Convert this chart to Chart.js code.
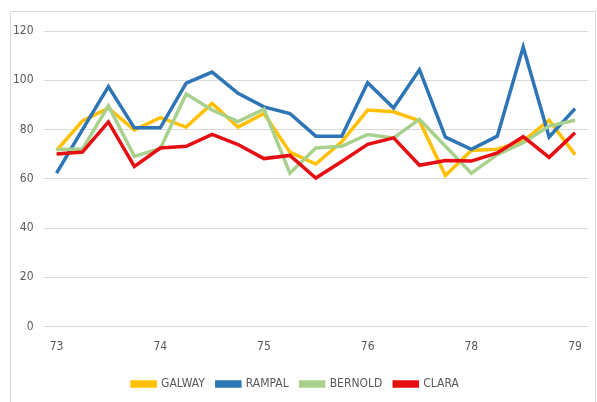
<!DOCTYPE html>
<html>
<head>
<meta charset="utf-8">
<script src="https://cdn.jsdelivr.net/npm/chart.js@4"></script>
<style>
  html, body { margin: 0; padding: 0; background: #fff; }
  #wrap { width: 597px; height: 402px; }
</style>
</head>
<body>
<div id="wrap"><canvas id="lineChart" width="597" height="402"></canvas></div>
<script>
// x categories, only every 4th one carries a label
var categories = ['73', '', '', '', '74', '', '', '', '75', '', '', '', '76', '', '', '', '78', '', '', '', '79'];
var yTicks = [0, 20, 40, 60, 80, 100, 120];

var galway  = [71.5, 83.5, 88.7, 79.8, 84.8, 81, 90.6, 81, 86.5, 70.8, 66, 75, 87.9, 87.2, 83.5, 61.3, 71.5, 72, 75.3, 83.8, 69.8];
var rampal  = [62.3, 80, 97.4, 80.7, 80.7, 98.8, 103.3, 94.7, 89.2, 86.5, 77.3, 77.3, 99, 88.7, 104.3, 76.9, 72, 77.3, 113.5, 77, 88.5];
var bernold = [71.9, 72.1, 89.6, 69.1, 72.3, 94.4, 87.9, 83.2, 88.3, 62.3, 72.5, 73.2, 78, 76.6, 84.2, 73.2, 62.3, 69.8, 74.6, 81.4, 83.8];
var clara   = [70.1, 70.9, 83.1, 65, 72.5, 73.2, 78, 73.9, 68.2, 69.5, 60.3, 67, 74, 76.6, 65.5, 67.4, 67.2, 70.5, 77.1, 68.7, 78.7];

var font = "'DejaVu Sans Condensed', 'Liberation Sans Narrow', 'Liberation Sans', sans-serif";

// light grey frame around the chart, like the original
var framePlugin = {
    id: 'frame',
    beforeDraw: function (chart) {
        var c = chart.ctx;
        c.save();
        c.fillStyle = '#fff';
        c.fillRect(0, 0, chart.width, chart.height);
        c.strokeStyle = '#d9d9d9';
        c.lineWidth = 1;
        c.strokeRect(10.5, 11.5, 585, 400);
        c.restore();
    }
};

function series(label, data, color, order) {
    return {
        label: label,
        data: data,
        borderColor: color,
        backgroundColor: color,
        borderWidth: 3.5,
        pointRadius: 0,
        tension: 0,
        order: order
    };
}

var ctx = document.getElementById('lineChart').getContext('2d');
new Chart(ctx, {
    type: 'line',
    data: {
        labels: categories,
        datasets: [
            series('GALWAY', galway, '#ffc000', 4),
            series('RAMPAL', rampal, '#2e75b6', 3),
            series('BERNOLD', bernold, '#a9d18e', 2),
            series('CLARA', clara, '#e60e12', 1)
        ]
    },
    options: {
        responsive: false,
        animation: false,
        layout: { padding: { left: 3, top: 31, right: 9, bottom: 2 } },
        plugins: {
            tooltip: { enabled: false },
            legend: {
                position: 'bottom',
                labels: {
                    boxWidth: 23,
                    boxHeight: 4,
                    padding: 12,
                    color: '#595959',
                    font: { family: font, size: 12 },
                    sort: function (a, b) { return a.datasetIndex - b.datasetIndex; }
                }
            }
        },
        scales: {
            x: {
                offset: true,
                grid: { display: false },
                border: { display: false },
                afterFit: function (scale) { scale.height += 7; },
                ticks: {
                    autoSkip: false,
                    maxRotation: 0,
                    padding: 5,
                    color: '#595959',
                    font: { family: font, size: 12 }
                }
            },
            y: {
                min: 0,
                max: 120,
                afterBuildTicks: function (axis) {
                    axis.ticks = yTicks.map(function (v) { return { value: v }; });
                },
                grid: { color: '#d9d9d9', drawTicks: false },
                border: { display: false },
                ticks: {
                    padding: 10,
                    color: '#595959',
                    font: { family: font, size: 12 }
                }
            }
        }
    },
    plugins: [framePlugin]
});
</script>
</body>
</html>
